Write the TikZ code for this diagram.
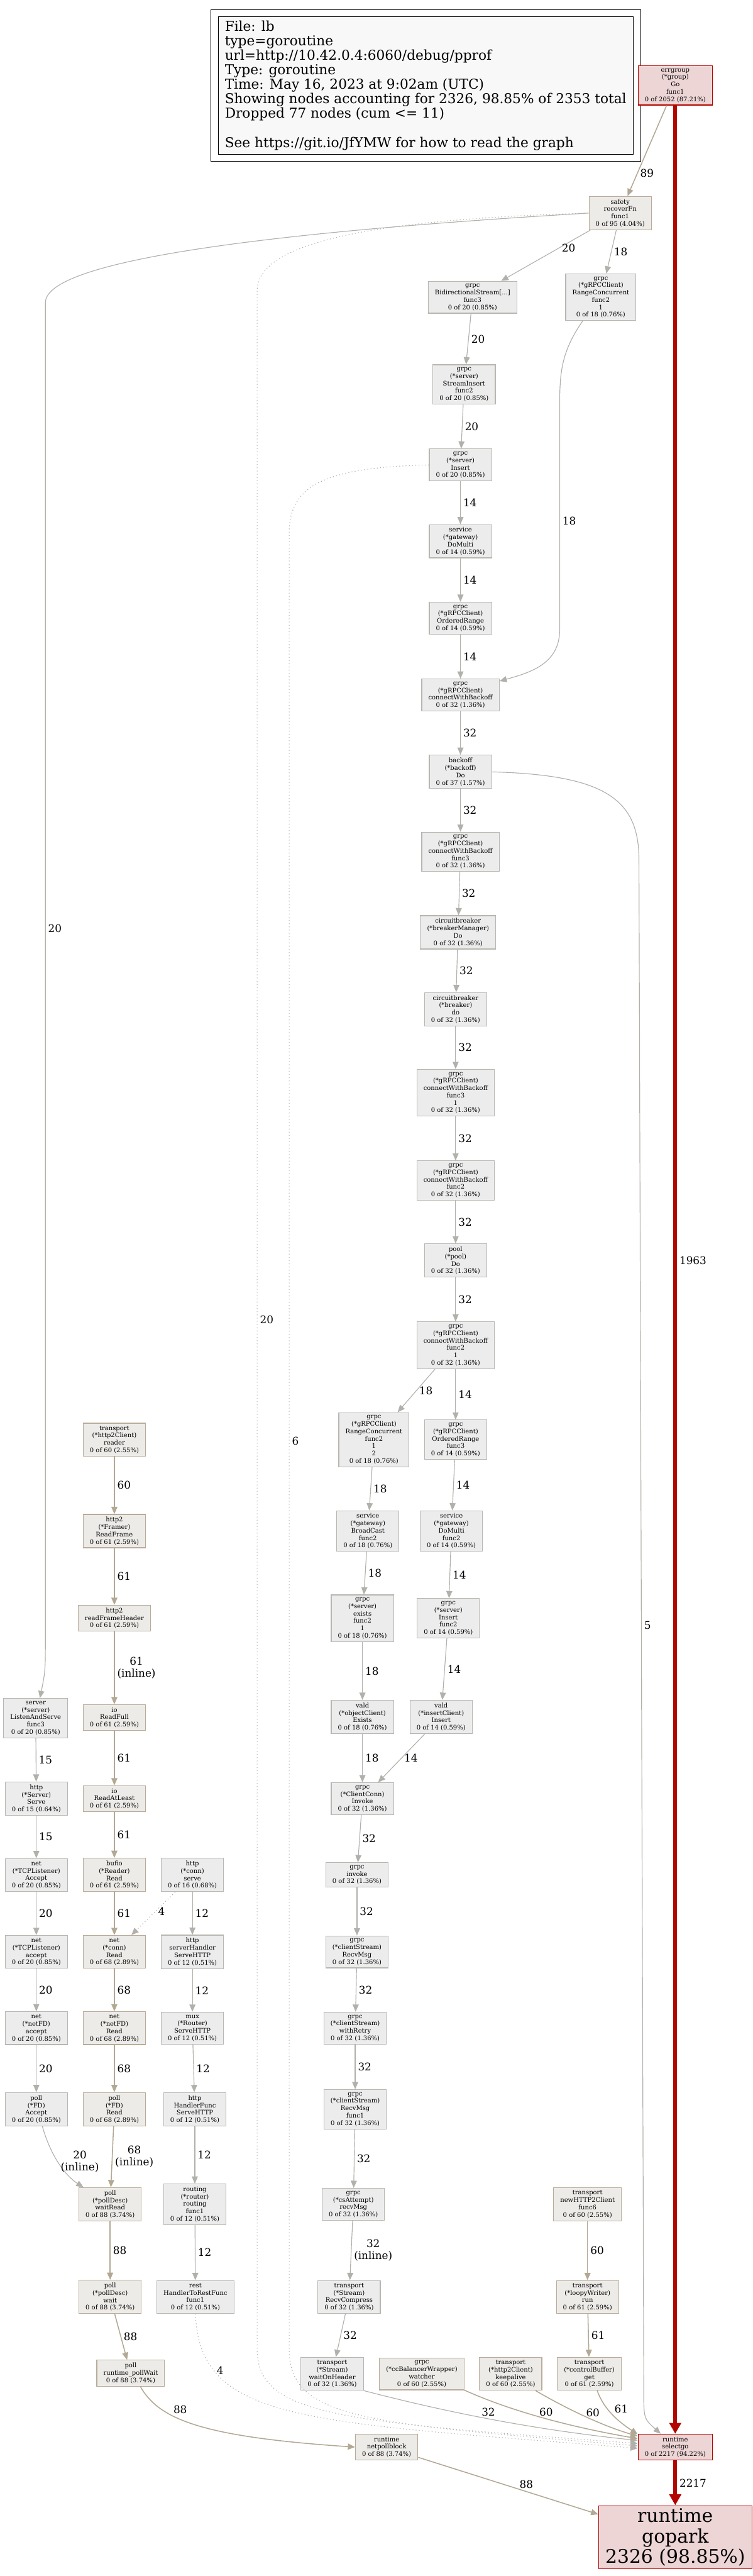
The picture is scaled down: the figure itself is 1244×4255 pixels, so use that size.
\documentclass[tikz,border=0pt]{standalone}
\usepackage{fontspec}
\setmainfont{DejaVu Serif}
\usetikzlibrary{arrows.meta,fit}
\definecolor{nfill}{HTML}{EDECEC}
\definecolor{nline}{HTML}{B8B6B0}
\definecolor{tfill}{HTML}{EDEBE8}
\definecolor{tline}{HTML}{B8AC98}
\definecolor{rfill}{HTML}{EDD5D5}
\definecolor{rline}{HTML}{B20400}
\definecolor{egray}{HTML}{B2B0AB}
\definecolor{etan}{HTML}{B2A893}
\definecolor{lgfill}{HTML}{F8F8F8}
\begin{document}
\begin{tikzpicture}[x=1pt,y=-1pt,
  fn/.style={draw=nline,fill=nfill,line width=1.2pt,align=center,inner xsep=11pt,inner ysep=4.5pt,font=\fontsize{10.4}{12.2}\selectfont},
  tn/.style={fn,draw=tline,fill=tfill},
  hot/.style={fn,draw=rline,fill=rfill},
  ed/.style={draw=egray,line width=1.2pt,-{Triangle[length=12pt,width=10pt]}},
  te/.style={ed,draw=etan,line width=1.6pt},
  de/.style={ed,dash pattern=on 1.3pt off 4pt},
  re/.style={draw=rline,line width=6pt,-{Triangle[length=18pt,width=19pt]}},
  lbl/.style={font=\fontsize{17.5}{20}\selectfont,align=center,inner sep=4pt}]
  \useasboundingbox (0,0) rectangle (1244,4255);
  \node[draw=black,line width=1.3pt,fill=lgfill,align=left,anchor=north west,minimum width=669pt,minimum height=227pt,inner xsep=11pt,font=\fontsize{22.5}{24}\selectfont] (legend) at (360,27) {File: lb\\type=goroutine\\url=http://10.42.0.4:6060/debug/pprof\\Type: goroutine\\Time: May 16, 2023 at 9:02am (UTC)\\Showing nodes accounting for 2326, 98.85\% of 2353 total\\Dropped 77 nodes (cum <= 11)\\[24pt]See https://git.io/JfYMW for how to read the graph};
  \node[draw=black,line width=0.8pt,fit=(legend),inner sep=11.5pt] (cluster) {};
  \node[hot] (eg) at (1116,141) {errgroup\\(*group)\\Go\\func1\\0 of 2052 (87.21\%)};
  \node[tn] (sf) at (1025,352) {safety\\recoverFn\\func1\\0 of 95 (4.04\%)};
  \node[fn] (bidi) at (781,491) {grpc\\BidirectionalStream[...]\\func3\\0 of 20 (0.85\%)};
  \node[fn] (rcf) at (993,491) {grpc\\(*gRPCClient)\\RangeConcurrent\\func2\\1\\0 of 18 (0.76\%)};
  \node[fn] (sins) at (767,635) {grpc\\(*server)\\StreamInsert\\func2\\0 of 20 (0.85\%)};
  \node[fn] (sinsert) at (761,768) {grpc\\(*server)\\Insert\\0 of 20 (0.85\%)};
  \node[fn] (domulti) at (761,894) {service\\(*gateway)\\DoMulti\\0 of 14 (0.59\%)};
  \node[fn] (ordr) at (761,1021) {grpc\\(*gRPCClient)\\OrderedRange\\0 of 14 (0.59\%)};
  \node[fn] (cwb) at (761,1148) {grpc\\(*gRPCClient)\\connectWithBackoff\\0 of 32 (1.36\%)};
  \node[fn] (bkdo) at (761,1275) {backoff\\(*backoff)\\Do\\0 of 37 (1.57\%)};
  \node[fn] (cwb3) at (761,1407) {grpc\\(*gRPCClient)\\connectWithBackoff\\func3\\0 of 32 (1.36\%)};
  \node[fn] (cbm) at (757,1540) {circuitbreaker\\(*breakerManager)\\Do\\0 of 32 (1.36\%)};
  \node[fn] (cbd) at (753,1667) {circuitbreaker\\(*breaker)\\do\\0 of 32 (1.36\%)};
  \node[fn] (cwb31) at (753,1805) {grpc\\(*gRPCClient)\\connectWithBackoff\\func3\\1\\0 of 32 (1.36\%)};
  \node[fn] (cwb2) at (753,1950) {grpc\\(*gRPCClient)\\connectWithBackoff\\func2\\0 of 32 (1.36\%)};
  \node[fn] (pool) at (753,2082) {pool\\(*pool)\\Do\\0 of 32 (1.36\%)};
  \node[fn] (cwb21) at (753,2222) {grpc\\(*gRPCClient)\\connectWithBackoff\\func2\\1\\0 of 32 (1.36\%)};
  \node[fn] (rcf12) at (618,2378) {grpc\\(*gRPCClient)\\RangeConcurrent\\func2\\1\\2\\0 of 18 (0.76\%)};
  \node[fn] (ordr3) at (753,2378) {grpc\\(*gRPCClient)\\OrderedRange\\func3\\0 of 14 (0.59\%)};
  \node[fn] (bcast) at (608,2529) {service\\(*gateway)\\BroadCast\\func2\\0 of 18 (0.76\%)};
  \node[fn] (dom2) at (746,2529) {service\\(*gateway)\\DoMulti\\func2\\0 of 14 (0.59\%)};
  \node[fn] (exists) at (599,2673) {grpc\\(*server)\\exists\\func2\\1\\0 of 18 (0.76\%)};
  \node[fn] (ins2) at (741,2673) {grpc\\(*server)\\Insert\\func2\\0 of 14 (0.59\%)};
  \node[fn] (objex) at (599,2836) {vald\\(*objectClient)\\Exists\\0 of 18 (0.76\%)};
  \node[fn] (insc) at (729,2836) {vald\\(*insertClient)\\Insert\\0 of 14 (0.59\%)};
  \node[fn] (invk) at (599,2971) {grpc\\(*ClientConn)\\Invoke\\0 of 32 (1.36\%)};
  \node[fn] (ginv) at (590,3097) {grpc\\invoke\\0 of 32 (1.36\%)};
  \node[fn] (csr) at (590,3224) {grpc\\(*clientStream)\\RecvMsg\\0 of 32 (1.36\%)};
  \node[fn] (retry) at (587,3350) {grpc\\(*clientStream)\\withRetry\\0 of 32 (1.36\%)};
  \node[fn] (rmf1) at (587,3484) {grpc\\(*clientStream)\\RecvMsg\\func1\\0 of 32 (1.36\%)};
  \node[fn] (recvm) at (584,3641) {grpc\\(*csAttempt)\\recvMsg\\0 of 32 (1.36\%)};
  \node[fn] (rcomp) at (577,3794) {transport\\(*Stream)\\RecvCompress\\0 of 32 (1.36\%)};
  \node[fn] (woh) at (549,3921) {transport\\(*Stream)\\waitOnHeader\\0 of 32 (1.36\%)};
  \node[tn] (watch) at (697,3921) {grpc\\(*ccBalancerWrapper)\\watcher\\0 of 60 (2.55\%)};
  \node[tn] (kalive) at (844,3921) {transport\\(*http2Client)\\keepalive\\0 of 60 (2.55\%)};
  \node[tn] (cbget) at (974,3921) {transport\\(*controlBuffer)\\get\\0 of 61 (2.59\%)};
  \node[tn] (loopy) at (971,3794) {transport\\(*loopyWriter)\\run\\0 of 61 (2.59\%)};
  \node[tn] (h2c6) at (971,3641) {transport\\newHTTP2Client\\func6\\0 of 60 (2.55\%)};
  \node[tn] (reader) at (189,2378) {transport\\(*http2Client)\\reader\\0 of 60 (2.55\%)};
  \node[tn] (rframe) at (189,2529) {http2\\(*Framer)\\ReadFrame\\0 of 61 (2.59\%)};
  \node[tn] (rfh) at (189,2673) {http2\\readFrameHeader\\0 of 61 (2.59\%)};
  \node[tn] (rfull) at (189,2837) {io\\ReadFull\\0 of 61 (2.59\%)};
  \node[tn] (ratl) at (189,2971) {io\\ReadAtLeast\\0 of 61 (2.59\%)};
  \node[tn] (bufio) at (189,3097) {bufio\\(*Reader)\\Read\\0 of 61 (2.59\%)};
  \node[tn] (connr) at (189,3224) {net\\(*conn)\\Read\\0 of 68 (2.89\%)};
  \node[tn] (fdread) at (189,3350) {net\\(*netFD)\\Read\\0 of 68 (2.89\%)};
  \node[tn] (pread) at (189,3484) {poll\\(*FD)\\Read\\0 of 68 (2.89\%)};
  \node[tn] (wread) at (182,3641) {poll\\(*pollDesc)\\waitRead\\0 of 88 (3.74\%)};
  \node[tn] (pwait) at (182,3794) {poll\\(*pollDesc)\\wait\\0 of 88 (3.74\%)};
  \node[tn] (ppw) at (216,3920) {poll\\runtime\_pollWait\\0 of 88 (3.74\%)};
  \node[tn] (npb) at (639,4042) {runtime\\netpollblock\\0 of 88 (3.74\%)};
  \node[fn] (lns) at (59,2838) {server\\(*server)\\ListenAndServe\\func3\\0 of 20 (0.85\%)};
  \node[fn] (serve) at (60,2971) {http\\(*Server)\\Serve\\0 of 15 (0.64\%)};
  \node[fn] (tcpA) at (60,3097) {net\\(*TCPListener)\\Accept\\0 of 20 (0.85\%)};
  \node[fn] (tcpa) at (60,3224) {net\\(*TCPListener)\\accept\\0 of 20 (0.85\%)};
  \node[fn] (fdacc) at (60,3350) {net\\(*netFD)\\accept\\0 of 20 (0.85\%)};
  \node[fn] (pacc) at (60,3484) {poll\\(*FD)\\Accept\\0 of 20 (0.85\%)};
  \node[fn] (conns) at (318,3097) {http\\(*conn)\\serve\\0 of 16 (0.68\%)};
  \node[fn] (shttp) at (318,3224) {http\\serverHandler\\ServeHTTP\\0 of 12 (0.51\%)};
  \node[fn] (mux) at (318,3350) {mux\\(*Router)\\ServeHTTP\\0 of 12 (0.51\%)};
  \node[fn] (hfunc) at (322,3484) {http\\HandlerFunc\\ServeHTTP\\0 of 12 (0.51\%)};
  \node[fn] (rfunc) at (322,3641) {routing\\(*router)\\routing\\func1\\0 of 12 (0.51\%)};
  \node[fn] (rest) at (323,3794) {rest\\HandlerToRestFunc\\func1\\0 of 12 (0.51\%)};
  \node[hot] (sel) at (1116,4042) {runtime\\selectgo\\0 of 2217 (94.22\%)};
  \node[hot,font=\fontsize{31}{34}\selectfont] (gopark) at (1116,4191) {runtime\\gopark\\2326 (98.85\%)};
  \draw[re] (eg) -- node[lbl,right,pos=.496]{1963} (sel);
  \draw[re] (sel) -- node[lbl,right]{2217} (gopark);
  \draw[te] (eg) -- node[lbl,right,pos=.75]{89} (sf);
  \draw[ed] (sf) -- node[lbl,right,pos=.35]{20} (bidi);
  \draw[ed] (sf) -- node[lbl,right]{18} (rcf);
  \draw[ed] (sf.west) .. controls (500,380) and (75,425) .. (75,500) -- node[lbl,right,pos=.47]{20} (75,2700) .. controls (75,2760) .. ([xshift=7pt]lns.north);
  \draw[de] (sf.west) .. controls (620,362) and (425,400) .. (425,480) -- node[lbl,right]{20} (425,3880) .. controls (425,3990) and (560,4000) .. ([yshift=6pt]sel.west);
  \draw[de] (sinsert.west) .. controls (540,772) and (478,800) .. (478,880) -- node[lbl,right]{6} (478,3880) .. controls (478,3995) and (600,4003) .. ([yshift=2pt]sel.west);
  \draw[ed] ([xshift=-30pt]rcf.south) .. controls (925,585) and (925,620) .. (925,680) -- node[lbl,right]{18} (925,1040) .. controls (925,1095) and (880,1110) .. ([yshift=-4pt]cwb.north east);
  \draw[ed] (bkdo.east) .. controls (1000,1280) and (1056,1320) .. (1056,1420) -- node[lbl,right]{5} (1064,3950) .. controls (1064,3995) .. ([xshift=-24pt]sel.north);
  \draw[ed] (bidi) -- node[lbl,right]{20} (sins);
  \draw[ed] (sins) -- node[lbl,right]{20} (sinsert);
  \draw[ed] (sinsert) -- node[lbl,right]{14} (domulti);
  \draw[ed] (domulti) -- node[lbl,right]{14} (ordr);
  \draw[ed] (ordr) -- node[lbl,right]{14} (cwb);
  \draw[ed] (cwb) -- node[lbl,right]{32} (bkdo);
  \draw[ed] (bkdo) -- node[lbl,right]{32} (cwb3);
  \draw[ed] (cwb3) -- node[lbl,right]{32} (cbm);
  \draw[ed] (cbm) -- node[lbl,right]{32} (cbd);
  \draw[ed] (cbd) -- node[lbl,right]{32} (cwb31);
  \draw[ed] (cwb31) -- node[lbl,right]{32} (cwb2);
  \draw[ed] (cwb2) -- node[lbl,right]{32} (pool);
  \draw[ed] (pool) -- node[lbl,right]{32} (cwb21);
  \draw[ed] (cwb21) -- node[lbl,right]{18} (rcf12);
  \draw[ed] (cwb21) -- node[lbl,right]{14} (ordr3);
  \draw[ed] (rcf12) -- node[lbl,right]{18} (bcast);
  \draw[ed] (ordr3) -- node[lbl,right]{14} (dom2);
  \draw[ed] (bcast) -- node[lbl,right]{18} (exists);
  \draw[ed] (dom2) -- node[lbl,right]{14} (ins2);
  \draw[ed] (exists) -- node[lbl,right]{18} (objex);
  \draw[ed] (ins2) -- node[lbl,right]{14} (insc);
  \draw[ed] (objex) -- node[lbl,right]{18} (invk);
  \draw[ed] (insc) -- node[lbl,right]{14} (invk);
  \draw[ed] (invk) -- node[lbl,right]{32} (ginv);
  \draw[ed] (ginv) -- node[lbl,right]{32} (csr);
  \draw[ed] (csr) -- node[lbl,right]{32} (retry);
  \draw[ed] (retry) -- node[lbl,right]{32} (rmf1);
  \draw[ed] (rmf1) -- node[lbl,right]{32} (recvm);
  \draw[ed] (recvm) -- node[lbl,right]{32\\(inline)} (rcomp);
  \draw[ed] (rcomp) -- node[lbl,right]{32} (woh);
  \draw[te] (h2c6) -- node[lbl,right]{60} (loopy);
  \draw[te] (loopy) -- node[lbl,right]{61} (cbget);
  \draw[ed] (woh.south east) .. controls (760,3990) and (900,4015) .. node[lbl,above,pos=.45]{32} ([yshift=11pt]sel.west);
  \draw[te] (watch.south east) .. controls (850,3985) and (950,4010) .. node[lbl,above,pos=.5]{60} ([yshift=14pt]sel.west);
  \draw[te] ([xshift=-11pt]kalive.south east) .. controls (930,3975) and (990,4005) .. node[lbl,above,pos=.6]{60} ([yshift=18pt]sel.west);
  \draw[te] ([xshift=13pt]cbget.south) .. controls (1000,3985) and (1030,4005) .. node[lbl,above right,pos=.45,inner sep=2pt]{61} ([yshift=21pt]sel.west);
  \draw[de] (rest.south) .. controls (330,4000) and (500,4000) .. node[lbl,right,pos=.22]{4} ([yshift=-2pt]sel.west);
  \draw[te] (reader) -- node[lbl,right]{60} (rframe);
  \draw[te] (rframe) -- node[lbl,right]{61} (rfh);
  \draw[te] (rfh) -- node[lbl,right]{61\\(inline)} (rfull);
  \draw[te] (rfull) -- node[lbl,right]{61} (ratl);
  \draw[te] (ratl) -- node[lbl,right]{61} (bufio);
  \draw[te] (bufio) -- node[lbl,right]{61} (connr);
  \draw[te] (connr) -- node[lbl,right]{68} (fdread);
  \draw[te] (fdread) -- node[lbl,right]{68} (pread);
  \draw[te] (pread) -- node[lbl,right]{68\\(inline)} (wread);
  \draw[te] (wread) -- node[lbl,right]{88} (pwait);
  \draw[te] (pwait) -- node[lbl,right]{88} (ppw);
  \draw[te] ([xshift=16pt]ppw.south) .. controls (262,3995) and (330,4025) .. node[lbl,above right,pos=.35,inner sep=2pt]{88} (npb.west);
  \draw[te] ([yshift=5pt]npb.south east) -- node[lbl,above,pos=.6]{88} ([yshift=-15pt]gopark.north west);
  \draw[ed] (lns) -- node[lbl,right]{15} (serve);
  \draw[ed] (serve) -- node[lbl,right]{15} (tcpA);
  \draw[ed] (tcpA) -- node[lbl,right]{20} (tcpa);
  \draw[ed] (tcpa) -- node[lbl,right]{20} (fdacc);
  \draw[ed] (fdacc) -- node[lbl,right]{20} (pacc);
  \draw[ed] ([xshift=10pt]pacc.south) .. controls (85,3565) and (110,3595) .. node[lbl,right,pos=.45]{20\\(inline)} ([xshift=8pt]wread.north west);
  \draw[de] (conns) -- node[lbl,right,pos=.45]{4} (connr);
  \draw[ed] (conns) -- node[lbl,right]{12} (shttp);
  \draw[ed] (shttp) -- node[lbl,right]{12} (mux);
  \draw[ed] (mux) -- node[lbl,right]{12} (hfunc);
  \draw[ed] (hfunc) -- node[lbl,right]{12} (rfunc);
  \draw[ed] (rfunc) -- node[lbl,right]{12} (rest);
\end{tikzpicture}
\end{document}
